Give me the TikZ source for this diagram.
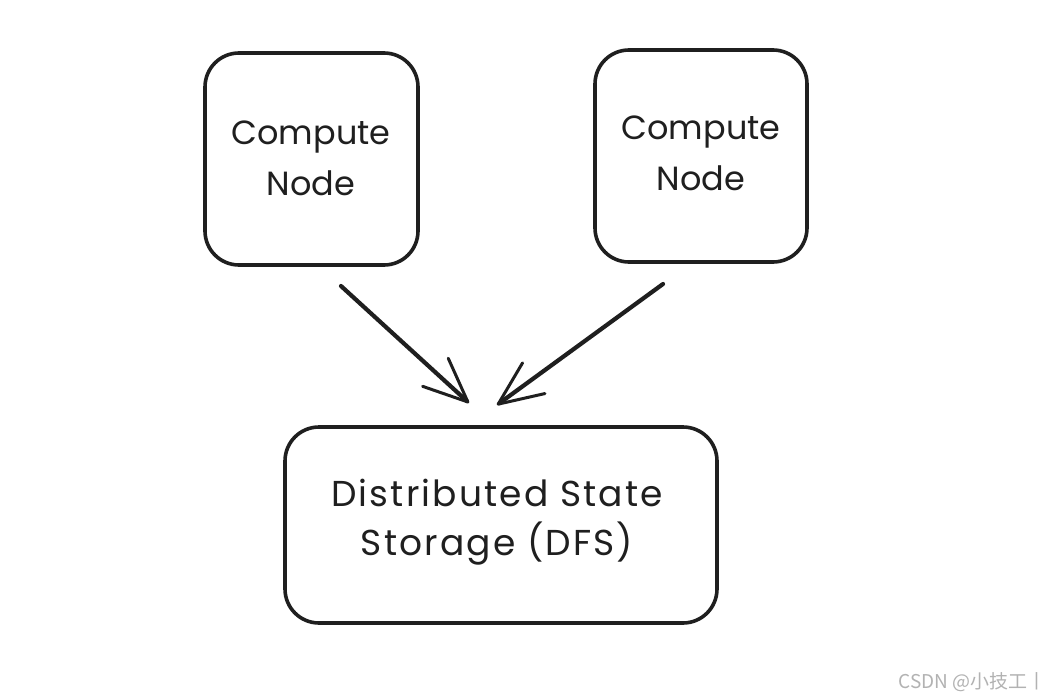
\documentclass[tikz,border=0pt]{standalone}
\usepackage{fontspec}
\setmainfont{Poppins}
\newfontfamily\widefont[LetterSpace=6]{Poppins}
\newfontfamily\cjkfont{Noto Sans CJK SC}
\usetikzlibrary{arrows.meta}
\begin{document}
\begin{tikzpicture}[x=1pt,y=-1pt,
  box/.style={draw=black!88, line width=3.6pt, rounded corners=34pt, inner sep=0pt},
  lbl/.style={font=\fontsize{33.5}{51}\selectfont, align=center, text=black!88},
  wlbl/.style={font=\widefont\fontsize{36}{49}\selectfont, align=center, text=black!88},
  flow/.style={draw=black!88, line width=4.2pt, line cap=round,
    -{Straight Barb[length=44pt,width=38pt,line width=3pt,round]}},
  wm/.style={font=\cjkfont\fontsize{19}{21}\selectfont, text=black!30, anchor=east}]
\fill[white] (0,0) rectangle (1061,699);
\useasboundingbox (0,0) rectangle (1061,699);
% boxes
\draw[box] (205,53) rectangle (418,265);
\draw[box] (595,50) rectangle (807,262);
\draw[box] (285,427) rectangle (717,623);
\node[lbl] (cn1) at (311,158) {Compute\\Node};
\node[lbl] (cn2) at (701,153) {Compute\\Node};
\node[wlbl] (dfs) at (497,522) {Distributed State\\Storage (DFS)};
% arrows
\coordinate (a1s) at (341,286);
\coordinate (a1e) at (469,403);
\coordinate (a2s) at (663,284);
\coordinate (a2e) at (497,405);
\draw[flow] (a1s) -- (a1e);
\draw[flow] (a2s) -- (a2e);
\node[wm] (wmk) at (1050,682) {CSDN @小技工丨};
\end{tikzpicture}
\end{document}
